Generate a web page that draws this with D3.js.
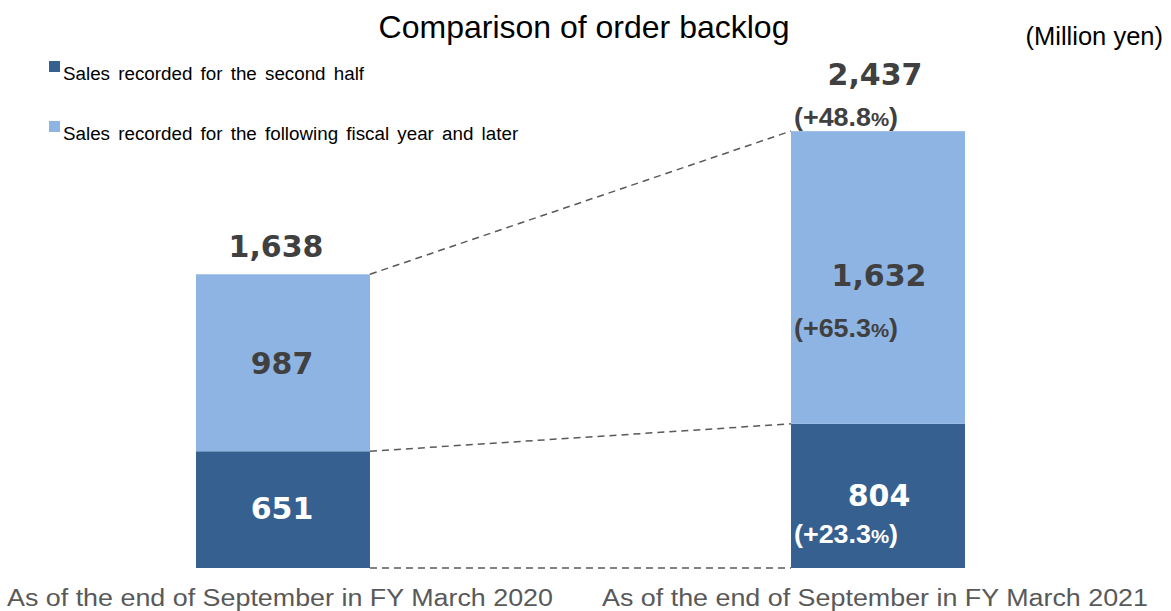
<!DOCTYPE html>
<html><head><meta charset="utf-8">
<script src="https://cdn.jsdelivr.net/npm/d3@7"></script>
<style>body{margin:0;background:#fff}svg{display:block}</style>
</head><body>
<svg id="c" width="1171" height="611"></svg>
<script>
const categories = ["As of the end of September in FY March 2020", "As of the end of September in FY March 2021"];
const secondHalf = [651, 804];
const followingYear = [987, 1632];
const totals = [1638, 2437];
const seriesNames = ["Sales recorded for the second half", "Sales recorded for the following fiscal year and later"];
const growthTotal = "+48.8";
const growthFollowing = "+65.3";
const growthSecond = "+23.3";

const colors = ["#36608f", "#8eb4e3"];
const svg = d3.select("#c");

const x = d3.scaleBand().domain(categories).range([196, 965]).paddingInner(0.7076).paddingOuter(0);
const y = d3.scaleLinear().domain([0, totals[1]]).range([568, 131]);

const data = categories.map((c, i) => ({cat: c, s0: secondHalf[i], s1: followingYear[i], tot: totals[i]}));

// dashed connectors
const c0 = categories[0], c1 = categories[1];
const conn = [
  [0, 0],
  [secondHalf[0], secondHalf[1]],
  [totals[0], totals[1]]
];
svg.selectAll("line.conn").data(conn).enter().append("line")
  .attr("x1", x(c0) + x.bandwidth()).attr("x2", x(c1))
  .attr("y1", d => y(d[0])).attr("y2", d => y(d[1]))
  .attr("stroke", "#595959").attr("stroke-width", 1.5).attr("stroke-dasharray", "7,5");

// bars
const g = svg.selectAll("g.bar").data(data).enter().append("g");
g.append("rect").attr("x", d => x(d.cat)).attr("width", x.bandwidth())
  .attr("y", d => y(d.s0)).attr("height", d => y(0) - y(d.s0)).attr("fill", colors[0]);
g.append("rect").attr("x", d => x(d.cat)).attr("width", x.bandwidth())
  .attr("y", d => y(d.s0 + d.s1)).attr("height", d => y(d.s0) - y(d.s0 + d.s1)).attr("fill", colors[1]);

const fmt = d3.format(",");
const bold = "'DejaVu Sans', Verdana, sans-serif";
const cx = d => x(d.cat) + x.bandwidth() / 2;

// totals
g.append("text").attr("x", (d, i) => cx(d) + (i === 1 ? -3 : -7)).attr("y", (d, i) => y(d.tot) - (i === 0 ? 17 : 46))
  .attr("text-anchor", "middle").attr("font-family", bold).attr("font-weight", "bold")
  .attr("font-size", 30).attr("fill", "#404040").text(d => fmt(d.tot));
// segment values
g.append("text").attr("x", (d, i) => cx(d) - (i === 1 ? -1 : 1)).attr("y", (d, i) => i === 0 ? y(d.s0 + d.s1 / 2) + 11 : y(d.s0 + d.s1) + 155)
  .attr("text-anchor", "middle").attr("font-family", bold).attr("font-weight", "bold")
  .attr("font-size", 30).attr("fill", "#404040").text(d => fmt(d.s1));
g.append("text").attr("x", (d, i) => cx(d) - (i === 1 ? -1 : 1)).attr("y", (d, i) => i === 0 ? y(d.s0 / 2) + 9 : y(d.s0) + 82)
  .attr("text-anchor", "middle").attr("font-family", bold).attr("font-weight", "bold")
  .attr("font-size", 30).attr("fill", "#ffffff").text(d => fmt(d.s0));

// growth labels
function growth(txt, yy, fill) {
  const t = svg.append("text").attr("x", x(c1) + 3).attr("y", yy)
    .attr("font-family", "'Liberation Sans', Arial, sans-serif").attr("font-weight", "bold")
    .attr("font-size", 25).attr("fill", fill)
    .attr("textLength", 104).attr("lengthAdjust", "spacingAndGlyphs");
  t.append("tspan").text("(" + txt);
  t.append("tspan").attr("font-size", 19).text("%");
  t.append("tspan").text(")");
}
growth(growthTotal, y(totals[1]) - 5, "#404040");
growth(growthFollowing, y(secondHalf[1] + followingYear[1]) + 206, "#404040");
growth(growthSecond, y(secondHalf[1]) + 119, "#ffffff");

// category labels
svg.selectAll("text.cat").data(categories).enter().append("text")
  .attr("x", d => x(d) + x.bandwidth() / 2 - 3).attr("y", 606)
  .attr("text-anchor", "middle").attr("font-family", "'Liberation Sans', Arial, sans-serif")
  .attr("font-size", 23).attr("fill", "#595959")
  .attr("textLength", 546).attr("lengthAdjust", "spacingAndGlyphs").text(d => d);

// title
svg.append("text").attr("x", 584).attr("y", 38).attr("text-anchor", "middle")
  .attr("font-family", "'Liberation Sans', Arial, sans-serif").attr("font-size", 32).attr("fill", "#000")
  .text("Comparison of order backlog");
svg.append("text").attr("x", 1163).attr("y", 45).attr("text-anchor", "end")
  .attr("font-family", "'Liberation Sans', Arial, sans-serif").attr("font-size", 25.5).attr("fill", "#000")
  .text("(Million yen)");

// legend
const leg = svg.selectAll("g.leg").data(seriesNames).enter().append("g")
  .attr("transform", (d, i) => `translate(49,${i === 0 ? 61 : 121})`);
leg.append("rect").attr("width", 11).attr("height", 11).attr("fill", (d, i) => colors[i]);
leg.append("text").attr("x", 14).attr("y", 19)
  .attr("font-family", "'Liberation Sans', Arial, sans-serif").attr("font-size", 18.8)
  .attr("word-spacing", 3).attr("fill", "#000").text(d => d);
</script>
</body></html>
